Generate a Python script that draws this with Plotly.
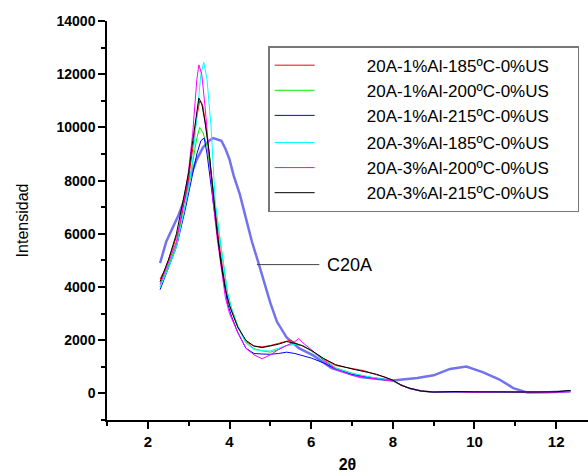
import plotly.graph_objects as go

# ---------------- data ----------------
x_185_1 = [2.3, 2.4, 2.5, 2.6, 2.7, 2.8, 2.9, 3.0, 3.1, 3.2, 3.27, 3.35, 3.45, 3.55, 3.65, 3.75, 3.85, 3.95, 4.05, 4.2, 4.4, 4.6, 4.8, 5.0, 5.2, 5.4, 5.5, 5.6, 5.8, 6.0, 6.3, 6.6, 7.0, 7.3, 7.6, 7.8, 8.0, 8.2, 8.4, 8.7, 9.0, 9.5, 10.0, 10.5, 11.0, 11.5, 12.0, 12.35]
y_185_1 = [4300, 4600, 5000, 5400, 5900, 6400, 7300, 8100, 9200, 10400, 11000, 10800, 9700, 8300, 6800, 5600, 4500, 3600, 3100, 2500, 1950, 1780, 1750, 1800, 1880, 1960, 2000, 1900, 1780, 1600, 1300, 1050, 930, 850, 700, 620, 490, 300, 200, 100, 60, 60, 70, 60, 60, 50, 60, 100]

x_200_1 = [2.3, 2.5, 2.7, 2.9, 3.0, 3.1, 3.2, 3.27, 3.35, 3.45, 3.55, 3.65, 3.75, 3.85, 3.95, 4.05, 4.2, 4.4, 4.6, 4.8, 5.0, 5.2, 5.4, 5.6, 5.8, 6.0, 6.3, 6.6, 7.0, 7.3, 7.6, 8.0, 8.2, 8.4, 8.7, 9.0, 9.5, 10.0, 10.5, 11.0, 11.5, 12.0, 12.35]
y_200_1 = [4000, 4800, 5600, 7000, 7700, 8700, 9600, 10000, 9800, 9300, 8200, 6900, 5800, 4700, 3800, 3200, 2550, 1950, 1680, 1600, 1550, 1650, 1800, 1850, 1800, 1600, 1280, 960, 760, 650, 570, 480, 330, 200, 80, 40, 60, 50, 40, 50, 40, 50, 80]

x_215_1 = [2.3, 2.5, 2.7, 2.9, 3.0, 3.1, 3.2, 3.3, 3.38, 3.45, 3.55, 3.65, 3.75, 3.85, 3.95, 4.05, 4.2, 4.4, 4.6, 4.8, 5.0, 5.2, 5.4, 5.6, 5.8, 6.0, 6.3, 6.6, 7.0, 7.5, 8.0, 8.2, 8.4, 8.7, 9.0, 9.5, 10.0, 10.5, 11.0, 11.5, 12.0, 12.35]
y_215_1 = [3900, 4700, 5500, 6800, 7500, 8300, 9000, 9500, 9600, 9000, 7900, 6600, 5400, 4300, 3400, 2900, 2300, 1700, 1500, 1480, 1470, 1500, 1550, 1500, 1420, 1330, 1150, 920, 720, 580, 470, 320, 180, 80, 50, 50, 60, 50, 40, 50, 50, 90]

x_185_3 = [2.3, 2.5, 2.7, 2.9, 3.0, 3.1, 3.2, 3.3, 3.37, 3.45, 3.55, 3.6, 3.65, 3.75, 3.85, 3.95, 4.05, 4.2, 4.4, 4.6, 4.8, 5.0, 5.2, 5.4, 5.6, 5.8, 6.0, 6.3, 6.6, 7.0, 7.5, 8.0, 8.2, 8.4, 8.7, 9.0, 9.5, 10.0, 10.5, 11.0, 11.5, 12.0, 12.35]
y_185_3 = [4000, 4700, 5500, 6900, 7700, 8800, 10300, 12000, 12450, 11800, 10000, 8500, 7200, 6000, 4900, 3800, 3200, 2500, 1900, 1650, 1600, 1600, 1700, 1800, 1850, 1800, 1600, 1250, 950, 750, 600, 470, 320, 200, 90, 50, 60, 50, 40, 50, 40, 50, 70]

x_200_3 = [2.3, 2.5, 2.7, 2.9, 3.0, 3.1, 3.2, 3.25, 3.32, 3.4, 3.5, 3.6, 3.7, 3.8, 3.9, 4.0, 4.2, 4.4, 4.6, 4.8, 5.0, 5.2, 5.4, 5.6, 5.7, 5.8, 6.0, 6.3, 6.6, 7.0, 7.5, 8.0, 8.2, 8.4, 8.7, 9.0, 9.5, 10.0, 10.5, 11.0, 11.5, 12.0, 12.35]
y_200_3 = [4100, 4900, 5700, 7400, 8400, 9800, 11800, 12350, 12000, 10800, 9000, 7200, 5800, 4600, 3600, 3000, 2300, 1700, 1450, 1300, 1450, 1650, 1800, 1950, 2060, 1900, 1650, 1250, 920, 680, 560, 470, 320, 200, 80, 50, 60, 40, 50, 40, 50, 40, 60]

x_215_3 = [2.3, 2.5, 2.7, 2.9, 3.0, 3.1, 3.2, 3.25, 3.32, 3.4, 3.5, 3.6, 3.7, 3.8, 3.9, 4.0, 4.2, 4.4, 4.6, 4.8, 5.0, 5.2, 5.4, 5.6, 5.8, 6.0, 6.3, 6.6, 7.0, 7.3, 7.6, 8.0, 8.2, 8.4, 8.7, 9.0, 9.5, 10.0, 10.5, 11.0, 11.5, 12.0, 12.35]
y_215_3 = [4200, 5000, 6000, 7600, 8300, 9500, 10700, 11100, 10900, 10200, 9100, 7500, 6000, 4800, 3900, 3300, 2500, 2000, 1780, 1720, 1780, 1850, 1950, 1880, 1780, 1620, 1320, 1080, 920, 830, 720, 500, 310, 200, 90, 50, 70, 60, 50, 60, 50, 60, 110]

x_c20a = [2.3, 2.45, 2.6, 2.75, 2.9, 3.0, 3.1, 3.2, 3.35, 3.5, 3.6, 3.7, 3.8, 3.9, 4.0, 4.1, 4.25, 4.4, 4.55, 4.7, 4.85, 5.0, 5.16, 5.4, 5.7, 6.05, 6.5, 7.2, 8.0, 8.6, 9.0, 9.4, 9.8, 10.2, 10.6, 10.95, 11.3, 11.8, 12.35]
y_c20a = [4900, 5700, 6200, 6700, 7300, 8000, 8400, 8800, 9250, 9500, 9600, 9550, 9500, 9200, 8800, 8200, 7500, 6600, 5700, 4950, 4200, 3400, 2700, 2100, 1700, 1430, 950, 620, 490, 580, 680, 920, 1010, 800, 530, 200, 30, 40, 80]

series_names = ["20A-1%Al-185ºC-0%US", "20A-1%Al-200ºC-0%US", "20A-1%Al-215ºC-0%US",
                "20A-3%Al-185ºC-0%US", "20A-3%Al-200ºC-0%US", "20A-3%Al-215ºC-0%US"]
series_x = [x_185_1, x_200_1, x_215_1, x_185_3, x_200_3, x_215_3]
series_y = [y_185_1, y_200_1, y_215_1, y_185_3, y_200_3, y_215_3]
series_colors = ["#ff0000", "#00ee00", "#0000ff", "#00ffff", "#ff00ff", "#000000"]
series_groups = ["g1", "g1", "g1", "g2", "g2", "g2"]

x_ticks = [2, 4, 6, 8, 10, 12]
y_ticks = [0, 2000, 4000, 6000, 8000, 10000, 12000, 14000]
label_c20a = "C20A"
label_point = (4.67, 4842)

PAD = "\u00a0" * 10
TAIL = "\u00a0" * 5

fig = go.Figure()

fig.add_trace(go.Scatter(x=x_c20a, y=y_c20a, mode="lines", showlegend=False,
                         line=dict(color="rgba(60,60,235,0.72)", width=2.5)))

for nm, xs, ys, col, grp in zip(series_names, series_x, series_y, series_colors, series_groups):
    fig.add_trace(go.Scatter(x=xs, y=ys, mode="lines", name=PAD + nm + TAIL, legendgroup=grp,
                             line=dict(color=col, width=1)))

fig.add_annotation(x=6.35, y=label_point[1], text=label_c20a, showarrow=False,
                   xanchor="left", yanchor="middle",
                   font=dict(family="Arial, Liberation Sans", size=18, color="black"))
fig.add_shape(type="line", x0=label_point[0], x1=6.2, y0=label_point[1], y1=label_point[1],
              line=dict(color="#444444", width=1))

fig.update_layout(
    width=588, height=475,
    margin=dict(l=107, r=0, t=21, b=55),
    paper_bgcolor="white", plot_bgcolor="white",
    font=dict(family="Arial, Liberation Sans", color="black"),
    legend=dict(x=0.335, y=0.937, xanchor="left", yanchor="top",
                bordercolor="#777777", borderwidth=1.5, bgcolor="white",
                font=dict(size=17), tracegroupgap=2, itemwidth=40,
                traceorder="grouped"),
    xaxis=dict(range=[1, 12.78], tickvals=x_ticks, showgrid=False, zeroline=False,
               showline=True, linecolor="black", linewidth=1.5,
               ticks="outside", ticklen=7, tickwidth=1.5, tickcolor="black",
               minor=dict(dtick=1, ticks="outside", ticklen=4, tickwidth=1.5, tickcolor="black"),
               tickfont=dict(size=15),
               ticktext=["<b>%d</b>" % v for v in x_ticks],
               title=dict(text="<b>2θ</b>", font=dict(size=16), standoff=10)),
    yaxis=dict(range=[-1000, 14000], tickvals=y_ticks, showgrid=False, zeroline=False,
               showline=True, linecolor="black", linewidth=1.5,
               ticks="outside", ticklen=7, tickwidth=1.5, tickcolor="black",
               minor=dict(dtick=1000, tick0=0, ticks="outside", ticklen=4, tickwidth=1.5, tickcolor="black"),
               tickfont=dict(size=14),
               ticktext=["<b>%d</b>" % v for v in y_ticks],
               title=dict(text="Intensidad", font=dict(size=16), standoff=24)),
)

fig.write_html("out.html")
